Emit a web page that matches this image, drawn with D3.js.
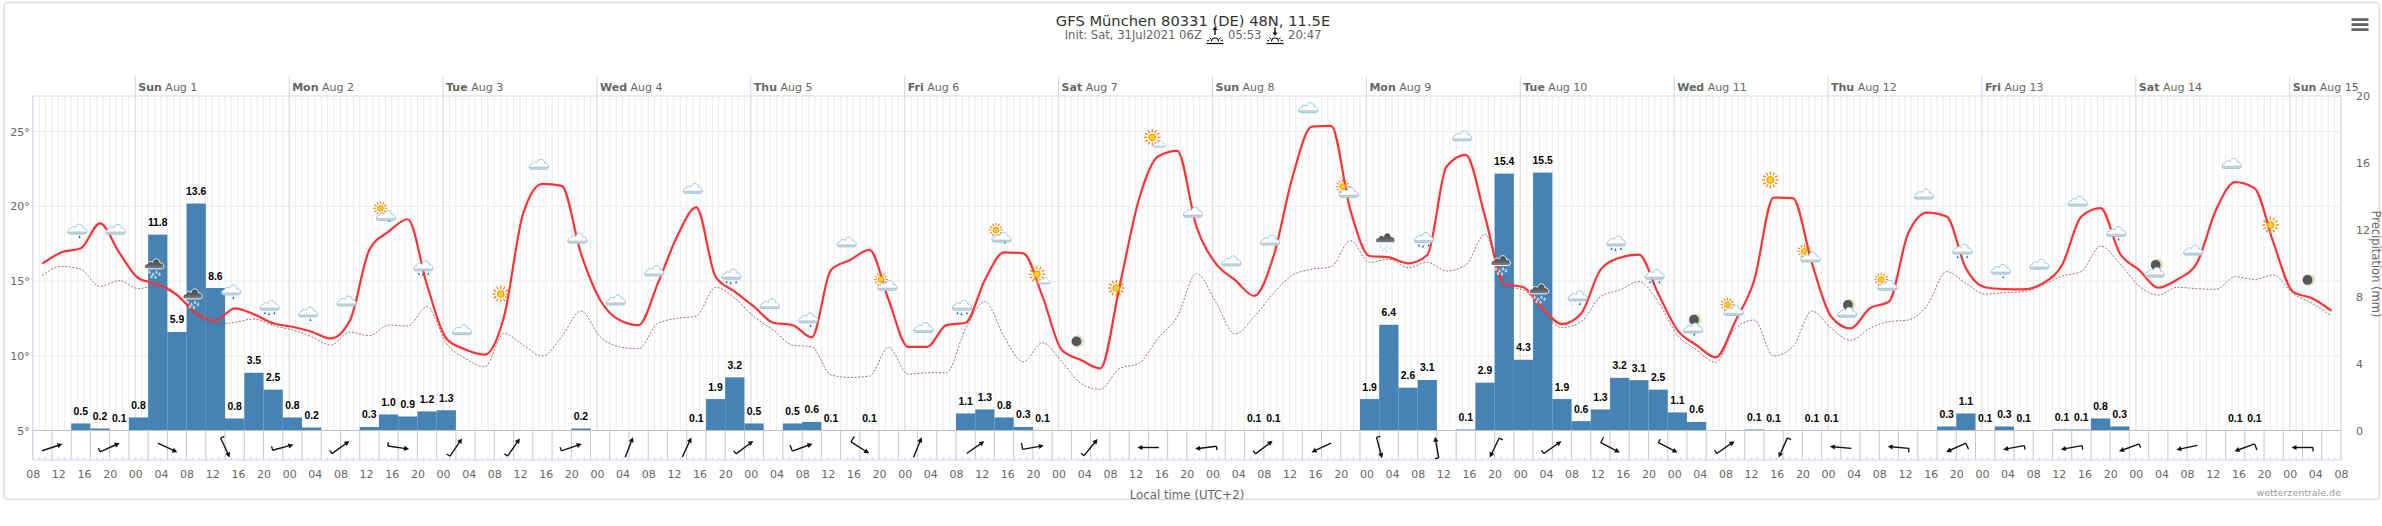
<!DOCTYPE html>
<html>
<head>
<meta charset="utf-8">
<script src="https://cdn.jsdelivr.net/npm/d3@7"></script>
<style>
  html, body { margin: 0; background: #fff; }
  svg { display: block; font-family: "DejaVu Sans", sans-serif; }
</style>
</head>
<body>
<div id="chart"></div>
<script>
// 3-hourly series, first point is Jul 31 09:30 local
const temperature = [
  16.16,16.92,17.19,18.86,16.90,15.18,14.78,14.06,12.83,12.34,
  13.17,12.77,12.17,11.94,11.61,11.16,12.39,17.08,18.30,19.13,
  14.73,11.16,10.42,10.07,12.61,19.53,21.50,21.36,16.85,13.73,
  12.39,12.05,14.84,17.97,19.93,15.29,14.29,13.28,12.21,12.05,
  11.23,15.74,16.41,17.08,13.73,10.60,10.60,12.05,12.21,15.07,
  16.92,16.85,13.95,10.38,9.71,9.15,14.62,20.42,23.33,23.71,
  18.64,16.18,15.07,14.00,16.63,21.99,25.33,25.38,19.75,16.67,
  16.58,16.18,16.74,22.66,23.44,19.31,14.82,14.58,13.17,12.12,
  12.83,15.74,16.56,16.76,14.17,11.72,10.71,9.89,12.28,15.07,
  20.58,20.54,16.18,12.61,11.83,13.17,13.62,18.19,19.58,19.31,
  15.85,14.58,14.46,14.44,14.84,16.07,19.31,19.87,16.85,15.74,
  14.55,15.11,16.18,19.75,21.61,21.21,17.52,14.29,13.84,13.01
];
const dewPoint = [
  15.36,15.98,15.78,14.64,15.02,14.49,14.69,14.17,12.72,12.14,
  12.23,12.46,12.03,11.72,11.27,10.71,11.58,11.34,12.05,11.99,
  13.28,10.83,9.82,9.26,11.50,10.71,9.98,11.27,12.99,11.27,
  10.60,10.47,12.17,12.50,12.66,14.58,13.84,12.61,11.72,10.71,
  10.60,8.71,8.55,8.64,10.56,8.77,8.86,8.86,11.83,13.62,
  11.27,9.60,10.87,9.60,8.15,7.75,9.15,9.49,11.16,12.61,
  15.51,13.62,11.45,12.61,14.17,15.40,15.78,15.96,17.70,16.25,
  16.45,15.89,16.25,15.67,16.07,18.13,14.67,14.40,12.95,11.88,
  12.28,13.95,14.40,14.96,13.62,11.38,10.38,9.55,11.83,12.39,
  9.98,10.60,12.99,11.83,11.03,11.83,12.28,12.39,13.39,15.63,
  14.84,14.13,14.22,14.29,14.73,15.33,15.63,17.34,16.18,14.67,
  14.06,14.58,14.49,14.44,15.29,15.11,15.40,14.17,13.50,12.66
];
// labels on the bars are these rounded up to one decimal
const precipitation = [
  0,0,0.42,0.12,0.02,0.78,11.71,5.89,13.57,8.52,
  0.72,3.45,2.44,0.78,0.18,0,0,0.21,0.96,0.84,
  1.14,1.21,0,0,0,0,0,0,0.12,0,
  0,0,0,0,0.02,1.88,3.18,0.42,0,0.42,
  0.51,0.02,0,0.02,0,0,0,0,1.02,1.26,
  0.78,0.21,0.02,0,0,0,0,0,0,0,
  0,0,0,0.02,0.02,0,0,0,0,1.88,
  6.32,2.56,3.02,0,0.06,2.86,15.36,4.23,15.42,1.88,
  0.56,1.26,3.15,3.01,2.44,1.08,0.51,0,0,0.06,
  0.02,0,0.02,0.02,0,0,0,0,0,0.24,
  1.02,0.02,0.24,0.02,0,0.06,0.06,0.72,0.24,0,
  0,0,0,0,0.02,0.02,0,0,0,0
];
// wind, one arrow every 9 hours: bearing the arrow points to, tail barbs 0 none / 1 short / 2 long
const windBearing = [
  72,66,115,155,75,54,98,34,35,71,21,25,53,70,122,22,55,80,39,270,
  263,53,245,165,350,206,55,117,117,55,204,275,275,246,260,260,250,258,250,270
];
const windBarb = [
  0,1,0,1,1,1,1,1,1,1,0,0,1,2,2,0,0,2,1,0,
  1,1,0,1,1,1,1,2,1,1,1,0,1,2,1,1,1,0,2,1
];
// weather symbols, one every 6 hours, height given on the temperature scale
const iconType = [
  "cloud1","cloud0","dark","dark","cloud1","cloud2","cloud1","cloud0","suncloud1","cloud2",
  "cloud0","sun","cloud0","cloud0","cloud0","cloud0","cloud0","cloud2","cloud0","cloud1",
  "cloud0","suncloud0","cloud0","cloud2","suncloud1","sunsmall","moon","sun","sunsmall","cloud0",
  "cloud0","cloud0","cloud0","suncloud0","dark","cloud2","cloud0","dark","dark","cloud1",
  "cloud2","cloud2","mooncloud1","suncloud0","sun","suncloud0","mooncloud0","suncloud0","cloud0","cloud2",
  "cloud1","cloud0","cloud0","cloud1","mooncloud0","cloud0","cloud0","sun","moon"
];
const iconLevel = [
  18.42,18.48,15.96,13.95,14.35,13.33,12.88,13.68,19.53,15.96,
  11.76,14.13,22.83,17.88,13.75,15.69,21.21,15.40,13.50,12.48,
  17.63,14.96,11.90,13.33,18.08,15.29,10.96,14.53,24.44,19.62,
  16.36,17.75,26.61,21.18,17.70,17.86,24.73,16.18,14.29,13.95,
  17.63,15.40,11.94,13.28,21.76,16.85,13.06,14.96,20.83,17.08,
  15.74,16.14,20.36,18.26,15.74,17.08,22.88,18.75,15.07
];
const tempTicks = [5, 10, 15, 20, 25];
const precipTicks = [0, 4, 8, 12, 16, 20];

const width = 2382, height = 526;
const plot = { left: 32.7, right: 2341, top: 96, bottom: 430.5, panel: 460 };
const grey = "#666666", axisBlue = "#ccd6eb";
const HOUR = 3600000;
const start = Date.UTC(2021, 6, 31, 8);

const x = d3.scaleUtc()
    .domain([new Date(start), new Date(start + 360 * HOUR)])
    .range([plot.left, plot.right]);
const yTemp = d3.scaleLinear().domain([5, 25]).range([plot.bottom, 131.5]);
const yPrecip = d3.scaleLinear().domain([0, 20]).range([plot.bottom, plot.top]);
const at = h => new Date(start + h * HOUR);

const svg = d3.select("#chart").append("svg")
    .attr("width", width)
    .attr("height", height);

// Cloud gradients
const defs = svg.append("defs");
function gradient(id, stops) {
    const g = defs.append("linearGradient").attr("id", id)
        .attr("x1", 0).attr("x2", 0).attr("y1", 0).attr("y2", 1);
    stops.forEach(s => g.append("stop").attr("offset", s[0]).attr("stop-color", s[1]));
}
gradient("cloudLight", [[0, "#ffffff"], [0.68, "#ffffff"], [0.82, "#c4c4c4"], [1, "#d6e8f2"]]);
gradient("cloudDark", [[0, "#444a50"], [0.6, "#5c6064"], [1, "#85888a"]]);

// Frame
svg.append("rect")
    .attr("x", 4).attr("y", 2.5)
    .attr("width", 2375.5).attr("height", 497)
    .attr("rx", 4)
    .attr("fill", "#fff")
    .attr("stroke", "#dddddd")
    .attr("stroke-width", 1.5);

// Title
svg.append("text")
    .attr("x", 1193).attr("y", 26)
    .attr("text-anchor", "middle")
    .attr("fill", "#333333")
    .style("font-size", "14.7px")
    .text("GFS München 80331 (DE) 48N, 11.5E");
const subtitle = [
    { x: 1064.7, t: "Init: Sat, 31Jul2021 06Z" },
    { x: 1228, t: "05:53" },
    { x: 1288, t: "20:47" }
];
svg.selectAll(".sub").data(subtitle).enter().append("text")
    .attr("class", "sub")
    .attr("x", d => d.x).attr("y", 38.5)
    .attr("fill", grey)
    .style("font-size", "11.6px")
    .text(d => d.t);

function sunMark(cx, up) {
    const g = svg.append("g").attr("transform", `translate(${cx},0)`)
        .attr("stroke", "#111").attr("fill", "none");
    g.append("line").attr("x1", -8.5).attr("x2", 8.5).attr("y1", 43.5).attr("y2", 43.5).attr("stroke-width", 1.2);
    g.append("path").attr("d", "M-3.5,41.5 A3.5,3.5 0 0 1 3.5,41.5").attr("stroke-width", 1.2);
    [[-8, 41, -5.5, 40], [8, 41, 5.5, 40], [-5.5, 37.5, -4, 39], [5.5, 37.5, 4, 39]].forEach(r => {
        g.append("line").attr("x1", r[0]).attr("y1", r[1]).attr("x2", r[2]).attr("y2", r[3]);
    });
    g.append("line").attr("x1", 0).attr("x2", 0).attr("y1", 27.5).attr("y2", 35).attr("stroke-width", 1.4);
    g.append("path")
        .attr("d", up ? "M-2.5,30 L0,26.5 L2.5,30 Z" : "M-2.5,32.5 L0,36 L2.5,32.5 Z")
        .attr("fill", "#111").attr("stroke", "none");
}
sunMark(1215, true);
sunMark(1275, false);

// Menu button
svg.selectAll(".menu").data([19.5, 24.5, 29.5]).enter().append("rect")
    .attr("class", "menu")
    .attr("x", 2351.5).attr("y", d => d - 1.3)
    .attr("width", 17).attr("height", 2.8)
    .attr("fill", grey);

// Grid
const grid = svg.append("g");
grid.selectAll(".h").data(x.ticks(d3.utcHour.every(1))).enter().append("line")
    .attr("x1", d => x(d)).attr("x2", d => x(d))
    .attr("y1", plot.top).attr("y2", plot.bottom)
    .attr("stroke", "#f0f0f0")
    .attr("stroke-width", 1.2);
grid.selectAll(".temp").data(tempTicks.slice(1)).enter().append("line")
    .attr("x1", plot.left).attr("x2", plot.right)
    .attr("y1", d => yTemp(d)).attr("y2", d => yTemp(d))
    .attr("stroke", "#ececec")
    .attr("stroke-width", 1.2);
const days = x.ticks(d3.utcDay.every(1));
grid.selectAll(".day").data(days).enter().append("line")
    .attr("x1", d => x(d)).attr("x2", d => x(d))
    .attr("y1", plot.top).attr("y2", plot.bottom)
    .attr("stroke", "#e2e2e2")
    .attr("stroke-width", 1.3);

// Day header
const header = svg.selectAll(".dayHead").data(days).enter().append("g").attr("class", "dayHead");
header.append("line")
    .attr("x1", d => x(d)).attr("x2", d => x(d))
    .attr("y1", 76.5).attr("y2", plot.top)
    .attr("stroke", axisBlue);
const headText = header.append("text")
    .attr("x", d => x(d) + 3).attr("y", 91)
    .attr("fill", grey)
    .style("font-size", "11px");
headText.append("tspan").style("font-weight", "bold").text(d => d3.utcFormat("%a")(d));
headText.append("tspan").text(d => d3.utcFormat(" %b %-d")(d));

// Bars
const barData = precipitation.map((v, i) => ({ v, i }));
svg.selectAll(".bar").data(barData.filter(d => d.v > 0)).enter().append("rect")
    .attr("class", "bar")
    .attr("x", d => x(at(d.i * 3)))
    .attr("width", d => x(at(d.i * 3 + 3)) - x(at(d.i * 3)))
    .attr("y", d => yPrecip(d.v))
    .attr("height", d => yPrecip(0) - yPrecip(d.v))
    .attr("fill", "#4682b4");

// Temperature and dew point
const line = d3.line()
    .x((d, i) => x(at(i * 3 + 1.5)))
    .y(d => yTemp(d))
    .curve(d3.curveMonotoneX);
svg.append("path")
    .attr("d", line(dewPoint))
    .attr("fill", "none")
    .attr("stroke", "#8d4a52")
    .attr("stroke-opacity", 0.8)
    .attr("stroke-width", 1)
    .attr("stroke-dasharray", "2,1.6");
svg.append("path")
    .attr("d", line(temperature))
    .attr("fill", "none")
    .attr("stroke", "#ff3333")
    .attr("stroke-width", 2.2);

// Wind panel
const panel = svg.append("g");
panel.selectAll(".cell").data(d3.range(0, 361, 3)).enter().append("line")
    .attr("x1", d => x(at(d))).attr("x2", d => x(at(d)))
    .attr("y1", plot.bottom).attr("y2", plot.panel)
    .attr("stroke", "#c8c8c8");
panel.append("line")
    .attr("x1", plot.left).attr("x2", plot.right)
    .attr("y1", plot.bottom).attr("y2", plot.bottom)
    .attr("stroke", "#c0c0c0");
panel.selectAll(".minor").data(x.ticks(d3.utcHour.every(1))).enter().append("line")
    .attr("x1", d => x(d)).attr("x2", d => x(d))
    .attr("y1", plot.panel - 3).attr("y2", plot.panel)
    .attr("stroke", axisBlue);

const windData = windBearing.map((bearing, i) => ({ bearing, barb: windBarb[i], i }));
const arrows = svg.selectAll(".wind").data(windData).enter().append("g")
    .attr("class", "wind")
    .attr("transform", d => `translate(${x(at(3 + d.i * 9))},447.5) rotate(${d.bearing})`);
arrows.append("line")
    .attr("x1", 0).attr("x2", 0).attr("y1", 10.5).attr("y2", -8)
    .attr("stroke", "#111").attr("stroke-width", 1.4);
arrows.append("path")
    .attr("d", "M0,-11 L2.6,-6 L-2.6,-6 Z")
    .attr("fill", "#111");
arrows.filter(d => d.barb > 0).append("line")
    .attr("x1", 0).attr("y1", 10.5)
    .attr("x2", d => d.barb === 2 ? -6.5 : -4)
    .attr("y2", 10.5)
    .attr("stroke", "#111").attr("stroke-width", 1.3);

// Weather symbols
function cloud(g, dx, dy, s, dark) {
    g.append("path")
        .attr("transform", `translate(${dx},${dy}) scale(${s})`)
        .attr("d", "M-8,5.2 C-10.8,5.2 -10.8,0.2 -7,0.2 C-7,-2.4 -3,-2.8 -2,-1.2 C-1,-6 5,-6 5.5,-0.8 C9.8,-1.2 10.8,5.2 7,5.2 Z")
        .attr("fill", dark ? "url(#cloudDark)" : "url(#cloudLight)")
        .attr("stroke", dark ? "#ffffff" : "#86c4e8")
        .attr("stroke-width", 0.9);
}
function drops(g, list, color, edge) {
    g.selectAll(".drop").data(list).enter().append("path")
        .attr("d", d => `M${d[0]},${d[1]} l-1,2.2 a1.1,1.1 0 0 0 2,0 Z`)
        .attr("fill", color)
        .attr("stroke", edge || "none")
        .attr("stroke-width", 0.5);
}
function sun(g, dx, dy, s) {
    const c = g.append("g").attr("transform", `translate(${dx},${dy}) scale(${s})`);
    c.selectAll("line").data(d3.range(0, 360, 30)).enter().append("line")
        .attr("y1", 5.2).attr("y2", 8.3)
        .attr("transform", d => `rotate(${d})`)
        .attr("stroke", "#ff7a00").attr("stroke-width", 1.2);
    c.append("circle").attr("r", 3.4)
        .attr("fill", "#ffd21a").attr("stroke", "#ff8c00").attr("stroke-width", 1);
}
function moon(g, dx, dy) {
    g.append("circle").attr("cx", dx).attr("cy", dy).attr("r", 6.2).attr("fill", "#e6dfbd");
    g.append("circle").attr("cx", dx - 1.4).attr("cy", dy).attr("r", 4.9).attr("fill", "#55585a");
}
const drawIcon = {
    cloud0: g => cloud(g, 0, 0, 1, false),
    cloud1: g => { drops(g, [[2, 5.5]], "#1f6fb0"); cloud(g, 0, -1, 1, false); },
    cloud2: g => { drops(g, [[-5, 5.5], [-1, 6.5], [4.5, 5.5]], "#1f6fb0"); cloud(g, 0, -1, 1, false); },
    dark: g => { drops(g, [[-5, 4], [-1.5, 6], [2, 4], [5, 6], [-3, 8.5], [1, 9]], "#8fc8ea", "#fff"); cloud(g, 0, -3, 1, true); },
    sun: g => sun(g, 0, 0, 1),
    sunsmall: g => { sun(g, -2.5, -2.5, 1); cloud(g, 5, 4, 0.65, false); },
    suncloud0: g => { sun(g, -4.5, -2, 0.85); cloud(g, 2, 3.5, 1, false); },
    suncloud1: g => { sun(g, -5, -5, 0.85); drops(g, [[4, 6]], "#1f6fb0"); cloud(g, 1, 2, 1, false); },
    moon: g => moon(g, 0, 0),
    mooncloud0: g => { moon(g, 2, -5); cloud(g, 0, 2, 1, false); },
    mooncloud1: g => { moon(g, 2, -7); drops(g, [[1, 6]], "#1f6fb0"); cloud(g, 0, 1, 1, false); }
};
iconType.forEach((type, i) => {
    const g = svg.append("g")
        .attr("transform", `translate(${x(at(7 + i * 6))},${yTemp(iconLevel[i])})`);
    drawIcon[type](g);
});

// Bar labels
svg.selectAll(".lab").data(barData.filter(d => d.v > 0)).enter().append("text")
    .attr("class", "lab")
    .attr("x", d => x(at(d.i * 3 + 1.5)))
    .attr("y", d => yPrecip(d.v) - 8.5)
    .attr("text-anchor", "middle")
    .attr("fill", "#000")
    .attr("stroke", "#fff")
    .attr("stroke-width", 2)
    .attr("paint-order", "stroke")
    .style("font-family", "'Liberation Sans', sans-serif")
    .style("font-size", "10.4px")
    .style("font-weight", "bold")
    .text(d => (Math.ceil(d.v * 10) / 10).toFixed(1));

// Axes
const styleAxis = g => {
    g.select(".domain").remove();
    g.selectAll("line").remove();
    g.selectAll("text").attr("fill", grey).style("font-family", "'DejaVu Sans', sans-serif").style("font-size", "11px");
};
svg.append("g")
    .attr("transform", `translate(${plot.left - 3},0)`)
    .call(d3.axisLeft(yTemp).tickValues(tempTicks).tickFormat(d => d + "°").tickSize(0).tickPadding(0))
    .call(styleAxis);
svg.append("g")
    .attr("transform", `translate(${plot.right + 15},0)`)
    .call(d3.axisRight(yPrecip).tickValues(precipTicks).tickSize(0).tickPadding(0))
    .call(styleAxis);
svg.append("g")
    .attr("transform", `translate(0,${plot.panel + 10})`)
    .call(d3.axisBottom(x).ticks(d3.utcHour.every(4)).tickFormat(d3.utcFormat("%H")).tickSize(0).tickPadding(0))
    .call(styleAxis);

// Plot outline
svg.append("line").attr("x1", plot.left).attr("x2", plot.left)
    .attr("y1", plot.top).attr("y2", plot.panel).attr("stroke", axisBlue);
svg.append("line").attr("x1", plot.right).attr("x2", plot.right)
    .attr("y1", plot.top).attr("y2", plot.bottom).attr("stroke", axisBlue);
svg.append("line").attr("x1", plot.left).attr("x2", plot.right)
    .attr("y1", plot.top).attr("y2", plot.top).attr("stroke", axisBlue);
svg.append("line").attr("x1", plot.left).attr("x2", plot.right)
    .attr("y1", plot.panel).attr("y2", plot.panel).attr("stroke", axisBlue);

// Axis titles
svg.append("text")
    .attr("x", 1187).attr("y", 498.5)
    .attr("text-anchor", "middle")
    .attr("fill", grey)
    .style("font-size", "11.8px")
    .text("Local time (UTC+2)");
svg.append("text")
    .attr("transform", "translate(2372,264) rotate(90)")
    .attr("text-anchor", "middle")
    .attr("fill", grey)
    .style("font-size", "11.5px")
    .text("Precipitation (mm)");
svg.append("text")
    .attr("x", plot.right).attr("y", 495.5)
    .attr("text-anchor", "end")
    .attr("fill", "#999999")
    .style("font-size", "9.5px")
    .text("wetterzentrale.de");
</script>
</body>
</html>
